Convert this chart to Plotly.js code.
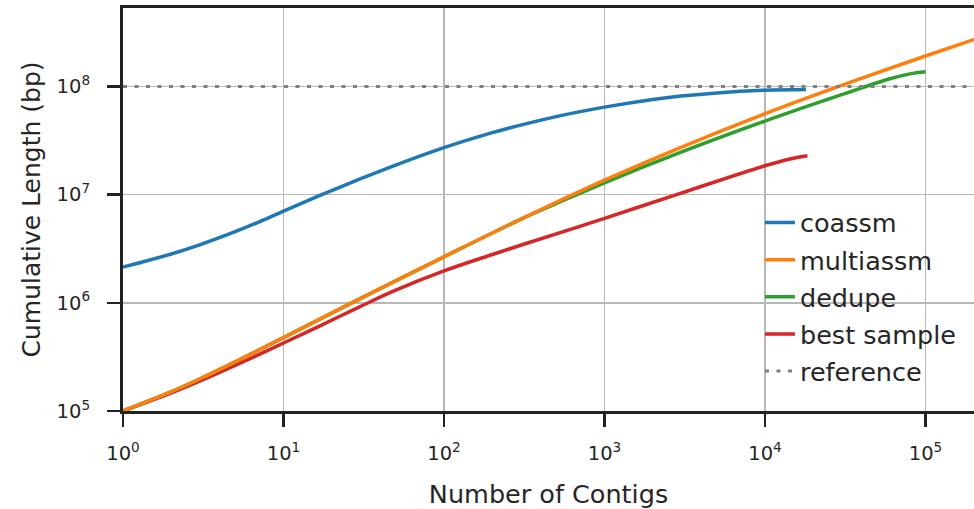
<!DOCTYPE html>
<html>
<head>
<meta charset="utf-8">
<script src="https://cdn.plot.ly/plotly-3.0.1.min.js"></script>
<style>
  html, body { margin: 0; padding: 0; background: #fff; }
  #chart { width: 974px; height: 509px; }
</style>
</head>
<body>
<div id="chart"></div>
<script>
// ---- data (log-log) ----
const coassmX = [1, 2, 3, 5, 7, 10, 17, 30, 50, 100, 200, 300, 500, 1000, 2000, 3000, 5000, 10000, 18000];
const coassmY = [2.142e6, 2.825e6, 3.43e6, 4.54e6, 5.57e6, 7.04e6, 9.87e6, 1.394e7, 1.874e7, 2.714e7, 3.734e7, 4.39e7, 5.26e7, 6.43e7, 7.57e7, 8.14e7, 8.71e7, 9.22e7, 9.38e7];

const multiX = [1, 2, 3, 5, 10, 25, 100, 300, 1000, 3000, 10000, 30000, 100000, 220000];
const multiY = [1.0e5, 1.508e5, 1.975e5, 2.843e5, 4.76e5, 9.52e5, 2.661e6, 5.91e6, 1.359e7, 2.736e7, 5.59e7, 1.021e8, 1.91e8, 2.843e8];

const dedupeX = [1, 2, 3, 5, 10, 25, 100, 300, 500, 1000, 3000, 10000, 30000, 60000, 83000, 100000];
const dedupeY = [1.0e5, 1.508e5, 1.975e5, 2.843e5, 4.76e5, 9.52e5, 2.661e6, 5.91e6, 8.26e6, 1.286e7, 2.466e7, 4.78e7, 8.38e7, 1.176e8, 1.319e8, 1.364e8];

const bestX = [1, 2, 3, 5, 7, 10, 17, 30, 50, 100, 200, 300, 1000, 3000, 10000, 15000, 18400];
const bestY = [1.0e5, 1.47e5, 1.886e5, 2.645e5, 3.32e5, 4.25e5, 6.16e5, 9.22e5, 1.308e6, 1.971e6, 2.795e6, 3.40e6, 6.03e6, 1.033e7, 1.846e7, 2.17e7, 2.284e7];

const refX = [1, 1e6];
const refY = [1e8, 1e8];

const seriesNames = ["coassm", "multiassm", "dedupe", "best sample", "reference"];

const xTickVals = [1, 10, 100, 1000, 10000, 100000];
const xTickText = ["10<sup>0</sup>", "10<sup>1</sup>", "10<sup>2</sup>", "10<sup>3</sup>", "10<sup>4</sup>", "10<sup>5</sup>"];
const yTickVals = [1e5, 1e6, 1e7, 1e8];
const yTickText = ["10<sup>5</sup>", "10<sup>6</sup>", "10<sup>7</sup>", "10<sup>8</sup>"];

// ---- chart ----
const FONT = "DejaVu Sans, sans-serif";
const TXT = "#262626";
const LW = 3.5;

function line(x, y, name, color, rank, dash) {
  return {
    x: x, y: y, name: name, type: "scatter", mode: "lines",
    line: dash ? { color: color, width: 3, dash: dash }
               : { color: color, width: LW, shape: "spline", smoothing: 1 },
    legendrank: rank, legendgroup: name, hoverinfo: "skip"
  };
}

const traces = [
  line(bestX, bestY, seriesNames[3], "#d62728", 4),
  line(dedupeX, dedupeY, seriesNames[2], "#2ca02c", 3),
  line(multiX, multiY, seriesNames[1], "#ff7f0e", 2),
  line(coassmX, coassmY, seriesNames[0], "#1f77b4", 1),
  line(refX, refY, seriesNames[4], "#808080", 5, "4px,7.5px")
];

const axisCommon = {
  type: "log",
  showgrid: true, gridcolor: "#b8b8b8", gridwidth: 1.5,
  showline: true, linecolor: "#222", linewidth: 3,
  ticks: "outside", ticklen: 13, tickwidth: 2.5, tickcolor: "#222",
  tickfont: { family: FONT, size: 19.5, color: TXT },
  zeroline: false, automargin: false
};

const layout = {
  width: 974, height: 509,
  margin: { l: 123, r: 0, t: 8, b: 98 },
  paper_bgcolor: "#fff", plot_bgcolor: "#fff",
  font: { family: FONT, color: TXT },
  showlegend: true,
  legend: {
    x: 0.7485, y: 0.525, xanchor: "left", yanchor: "top",
    bgcolor: "rgba(0,0,0,0)", borderwidth: 0,
    font: { family: FONT, size: 25.5, color: TXT },
    traceorder: "grouped", tracegroupgap: 1
  },
  xaxis: Object.assign({}, axisCommon, {
    range: [0, (974 - 123) / 160.5],
    tickmode: "array", tickvals: xTickVals, ticktext: xTickText,
    ticklabelstandoff: 10,
    mirror: true,
    title: { text: "Number of Contigs", font: { family: FONT, size: 25.5, color: TXT }, standoff: 23 }
  }),
  yaxis: Object.assign({}, axisCommon, {
    range: [5, 5 + 403 / 108.2],
    tickmode: "array", tickvals: yTickVals, ticktext: yTickText,
    ticklabelstandoff: 13,
    title: { text: "Cumulative Length (bp)", font: { family: FONT, size: 25, color: TXT }, standoff: 9 }
  })
};

Plotly.newPlot("chart", traces, layout, { staticPlot: true, displayModeBar: false });
</script>
</body>
</html>
